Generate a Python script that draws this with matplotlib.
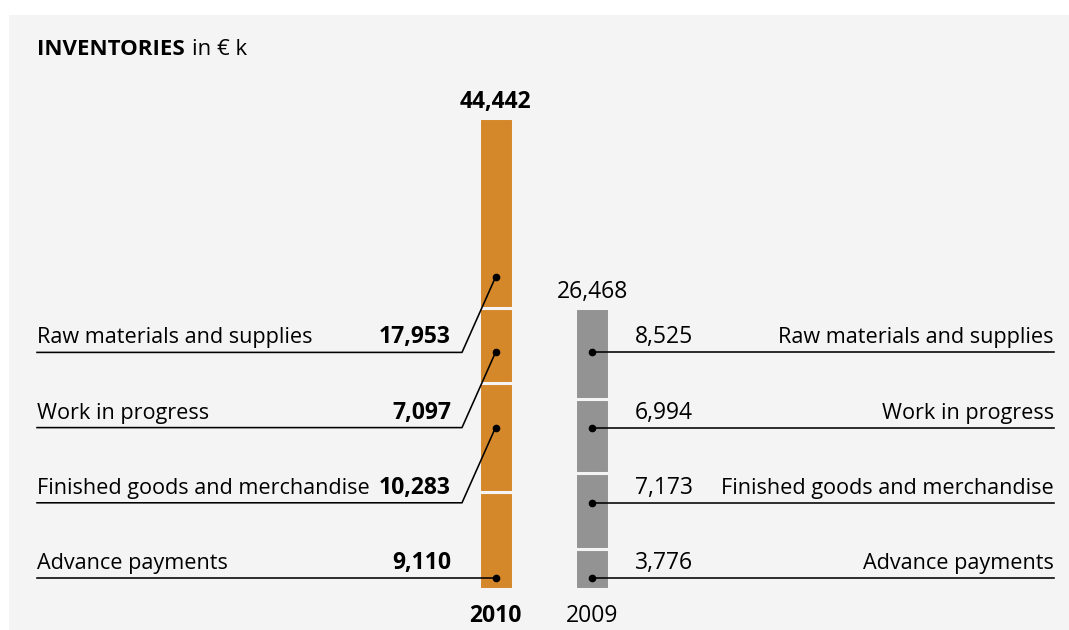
import matplotlib
matplotlib.use("Agg")
import matplotlib.pyplot as plt
from matplotlib.patches import Rectangle

# data, bottom segment first
categories = ["Advance payments", "Finished goods and merchandise",
              "Work in progress", "Raw materials and supplies"]
values_2010 = [9110, 10283, 7097, 17953]
values_2009 = [3776, 7173, 6994, 8525]
totals = [44442, 26468]
years = ["2010", "2009"]

ORANGE = "#d5882a"
GREY = "#939393"
BG = "#f4f4f4"
FONT = "Open Sans"
FS = 15.6       # category labels
FS_NUM = 16.5   # numbers and title

W, H = 1069, 630
BASE = 589          # pixel row (from top) of the zero line
SCALE = 0.0106      # pixels per € k
ROW0, ROW_STEP = 11, 75.2   # label rows, pixels above the zero line

plt.rcParams["font.family"] = [FONT, "DejaVu Sans"]

fig = plt.figure(figsize=(W / 100, H / 100), dpi=100)
fig.patches.append(Rectangle((9 / W, 0), 1, 1 - 15 / H, transform=fig.transFigure,
                             facecolor=BG, edgecolor="none", zorder=-5))
ax = fig.add_axes([0, 0, 1, 1])
ax.set_xlim(0, W)
ax.set_ylim(-(H - BASE) / SCALE, BASE / SCALE)
ax.axis("off")


def px(p):
    """pixel distance -> value units"""
    return p / SCALE


rows = [px(ROW0 + ROW_STEP * k) for k in range(len(categories) + 1)]


def draw_bar(xc, values, color):
    bottoms = [sum(values[:i]) for i in range(len(values))]
    ax.bar([xc] * len(values), values, bottom=bottoms, width=34, color=color,
           edgecolor=BG, linewidth=2.2, zorder=2)
    dots = []
    for i, (b, v) in enumerate(zip(bottoms, values)):
        dots.append(rows[i] if b <= rows[i] <= b + v else rows[i + 1])
    ax.plot([xc] * len(dots), dots, "o", color="black", markersize=4.5, zorder=4)
    return dots


x10, x09 = 495.5, 592
dots10 = draw_bar(x10, values_2010, ORANGE)
dots09 = draw_bar(x09, values_2009, GREY)

for i, cat in enumerate(categories):
    r = rows[i]
    # 2010, left side
    ax.plot([37, 462, x10], [r, r, dots10[i]], color="black", lw=1.15, zorder=3)
    ax.text(37, r + px(9), cat, fontsize=FS, ha="left", va="baseline")
    ax.text(451, r + px(9), f"{values_2010[i]:,}", fontsize=FS_NUM, fontweight="bold",
            ha="right", va="baseline")
    # 2009, right side
    ax.plot([x09, 1054], [r, r], color="black", lw=1.15, zorder=3)
    ax.text(635, r + px(9), f"{values_2009[i]:,}", fontsize=FS_NUM, ha="left", va="baseline")
    ax.text(1054, r + px(9), cat, fontsize=FS, ha="right", va="baseline")

ax.text(x10, totals[0] + px(10), f"{totals[0]:,}", fontsize=FS_NUM, fontweight="bold",
        ha="center", va="baseline")
ax.text(x09, totals[1] + px(10), f"{totals[1]:,}", fontsize=FS_NUM, ha="center", va="baseline")
ax.text(x10, px(-33), years[0], fontsize=FS_NUM, fontweight="bold", ha="center", va="baseline")
ax.text(x09, px(-33), years[1], fontsize=FS_NUM, ha="center", va="baseline")

t = fig.text(37 / W, 1 - 55 / H, "INVENTORIES", fontsize=16, fontweight="bold", va="baseline")
fig.canvas.draw()
bb = t.get_window_extent()
fig.text((bb.x1 + 7) / W, 1 - 55 / H, "in € k", fontsize=16, va="baseline")

fig.savefig("out.png", dpi=100, facecolor="white")
